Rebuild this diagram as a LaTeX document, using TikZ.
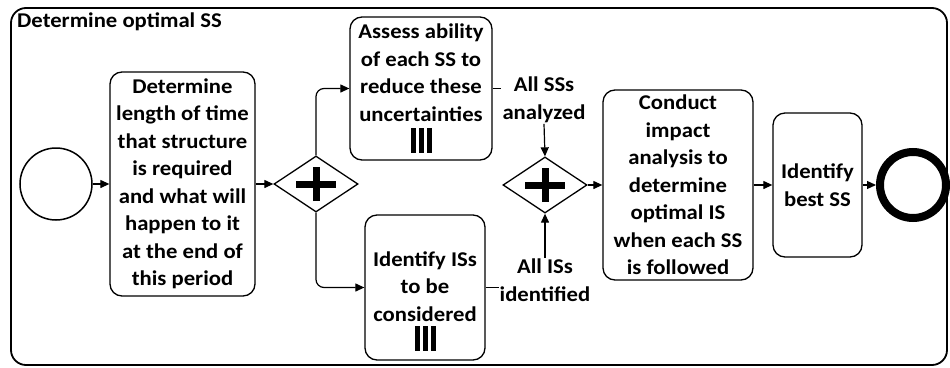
\documentclass[tikz,border=0pt]{standalone}
\usepackage{fontspec}
\setmainfont{Carlito}[FakeStretch=1.08]
\usetikzlibrary{shapes.geometric,arrows.meta}
\tikzset{
  txt/.style={font=\bfseries\fontsize{21}{27.5}\selectfont},
  task/.style={draw,txt,line width=1.3pt,rounded corners=12pt,align=center,inner sep=2pt},
  gate/.style={draw,diamond,line width=1.3pt,minimum width=84pt,minimum height=56pt,inner sep=0pt},
  plus/.style={line width=7pt},
  flow/.style={line width=1.2pt,-{Triangle[length=9pt,width=8pt]}},
  lbl/.style={txt,align=center,inner sep=1pt},
}
\newcommand{\mibars}{\rule{5pt}{25pt}\hspace{3pt}\rule{5pt}{25pt}\hspace{3pt}\rule{5pt}{25pt}}
\begin{document}
\begin{tikzpicture}[x=1pt,y=-1pt]
  \useasboundingbox (0,0) rectangle (950,367);
  \draw[line width=1.8pt,rounded corners=15pt] (11,8) rectangle (947,365);
  \node[txt,anchor=base west,inner sep=0pt] (title) at (17,27) {Determine optimal SS};
  % events
  \node[draw,circle,line width=1.5pt,minimum size=72pt] (start) at (56,184) {};
  \node[draw,circle,line width=8pt,minimum size=66pt] (end) at (913,185) {};
  % tasks
  \node[task,minimum width=145pt,minimum height=224pt] (len) at (182.5,184)
    {Determine\\length of time\\that structure\\is required\\and what will\\happen to it\\at the end of\\this period};
  \node[task,minimum width=142pt,minimum height=143pt] (assess) at (421,88.5)
    {Assess ability\\of each SS to\\reduce these\\uncertainties\\[4pt]\mibars};
  \node[task,minimum width=120pt,minimum height=145pt] (idis) at (425,287.5)
    {\rule{0pt}{42pt}Identify ISs\\to be\\considered\\[2pt]\mibars};
  \node[task,minimum width=150pt,minimum height=190pt] (impact) at (678,185)
    {Conduct\\impact\\analysis to\\determine\\optimal IS\\when each SS\\is followed};
  \node[task,minimum width=89pt,minimum height=144pt] (best) at (817.5,185)
    {Identify\\best SS};
  % gateways
  \node[gate] (split) at (316,184) {};
  \node[gate] (join) at (545,185) {};
  \foreach \g in {split,join}{
    \draw[plus] ([xshift=-20pt]\g.center) -- ([xshift=20pt]\g.center);
    \draw[plus] ([yshift=-17pt]\g.center) -- ([yshift=17pt]\g.center);
  }
  % labels
  \node[lbl] (ssdone) at (544,100) {All SSs\\analyzed};
  \node[lbl] (isdone) at (545,280) {All ISs\\identified};
  % flows
  \draw[flow] (start) -- (len);
  \draw[flow] (len) -- (split);
  \draw[flow,rounded corners=8pt] (split.north) |- (assess.west);
  \draw[flow,rounded corners=8pt] (split.south) |- (idis.west);
  \draw[line width=1.2pt] (assess.east) -- (assess.east -| ssdone.west);
  \draw[flow] (ssdone.south) -- (join.north);
  \draw[line width=1.2pt] (idis.east) -- (idis.east -| isdone.west);
  \draw[flow] (isdone.north) -- (join.south);
  \draw[flow] (join) -- (impact);
  \draw[flow] (impact) -- (best);
  \draw[flow] (best) -- (end);
\end{tikzpicture}
\end{document}
